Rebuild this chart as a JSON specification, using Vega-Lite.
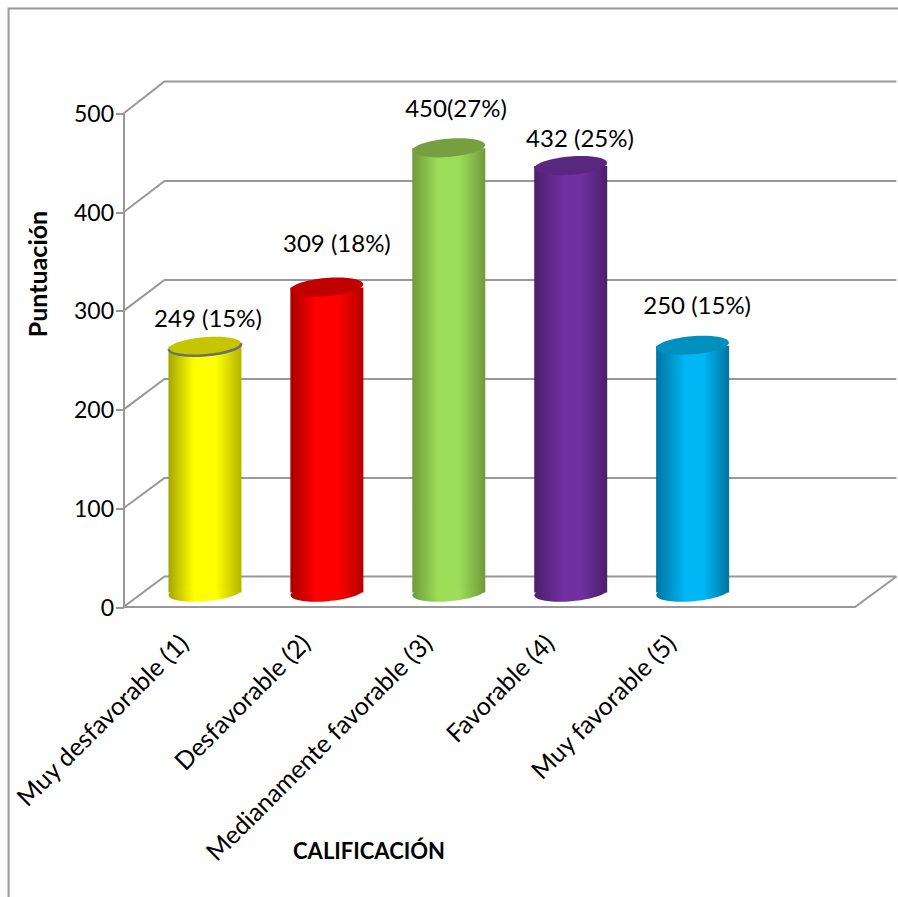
{
  "$schema": "https://vega.github.io/schema/vega-lite/v6.json",
  "width": 731.5,
  "height": 493.5,
  "autosize": "none",
  "padding": {"left": 123.5, "top": 113.5, "right": 43, "bottom": 290},
  "background": "white",
  "view": {"stroke": null},
  "config": {"font": "Lato"},
  "datasets": {
    "puntuaciones": [
      {"categoria": "Muy desfavorable (1)", "tono": "amarillo", "puntuacion": 249, "etiqueta": "249 (15%)"},
      {"categoria": "Desfavorable (2)", "tono": "rojo", "puntuacion": 309, "etiqueta": "309 (18%)"},
      {"categoria": "Medianamente favorable (3)", "tono": "verde", "puntuacion": 450, "etiqueta": "450(27%)"},
      {"categoria": "Favorable (4)", "tono": "morado", "puntuacion": 432, "etiqueta": "432 (25%)"},
      {"categoria": "Muy favorable (5)", "tono": "azul", "puntuacion": 250, "etiqueta": "250 (15%)"}
    ],
    "estructura": [
      {"linea": "marco", "orden": 1, "u": -0.943, "v": -293.8},
      {"linea": "marco", "orden": 2, "u": -0.943, "v": 606.4},
      {"linea": "marco", "orden": 3, "u": 6.353, "v": 606.4},
      {"linea": "suelo", "orden": 1, "u": 0, "v": 0},
      {"linea": "suelo", "orden": 2, "u": 6, "v": 0},
      {"linea": "suelo", "orden": 3, "u": 6.34, "v": 30.9},
      {"linea": "g0", "orden": 1, "u": 0, "v": 0},
      {"linea": "g0", "orden": 2, "u": 0.336, "v": 30.9},
      {"linea": "g0", "orden": 3, "u": 6.34, "v": 30.9},
      {"linea": "g100", "orden": 1, "u": 0, "v": 100},
      {"linea": "g100", "orden": 2, "u": 0.336, "v": 130.7},
      {"linea": "g100", "orden": 3, "u": 6.34, "v": 130.7},
      {"linea": "g200", "orden": 1, "u": 0, "v": 200},
      {"linea": "g200", "orden": 2, "u": 0.336, "v": 231},
      {"linea": "g200", "orden": 3, "u": 6.34, "v": 231},
      {"linea": "g300", "orden": 1, "u": 0, "v": 300},
      {"linea": "g300", "orden": 2, "u": 0.336, "v": 331.3},
      {"linea": "g300", "orden": 3, "u": 6.34, "v": 331.3},
      {"linea": "g400", "orden": 1, "u": 0, "v": 400},
      {"linea": "g400", "orden": 2, "u": 0.336, "v": 431.6},
      {"linea": "g400", "orden": 3, "u": 6.34, "v": 431.6},
      {"linea": "g500", "orden": 1, "u": 0, "v": 500},
      {"linea": "g500", "orden": 2, "u": 0.336, "v": 532.4},
      {"linea": "g500", "orden": 3, "u": 6.34, "v": 532.4}
    ]
  },
  "resolve": {"scale": {"x": "independent"}, "axis": {"x": "independent"}},
  "layer": [
    {
      "data": {"name": "estructura"},
      "mark": {"type": "line", "color": "#989898", "strokeWidth": 2, "clip": false},
      "encoding": {
        "x": {"field": "u", "type": "quantitative", "axis": null, "scale": {"domain": [0, 6], "nice": false, "zero": false}},
        "y": {
          "field": "v",
          "type": "quantitative",
          "scale": {"domain": [0, 500], "nice": false},
          "axis": {
            "title": "Puntuación",
            "titleFont": "Lato",
            "titleFontSize": 25,
            "titleFontWeight": "bold",
            "titleColor": "black",
            "titleX": -85,
            "titleY": 160,
            "titleAngle": 270,
            "titleAlign": "center",
            "titleBaseline": "middle",
            "values": [0, 100, 200, 300, 400, 500],
            "grid": false,
            "domainColor": "#989898",
            "domainWidth": 2,
            "tickColor": "#989898",
            "tickWidth": 2,
            "tickSize": 8,
            "labelFont": "Lato",
            "labelFontSize": 23,
            "labelColor": "black",
            "labelPadding": 2,
            "labelOffset": 1
          }
        },
        "detail": {"field": "linea"},
        "order": {"field": "orden"}
      }
    },
    {
      "data": {"name": "puntuaciones"},
      "encoding": {
        "x": {
          "field": "categoria",
          "type": "nominal",
          "sort": null,
          "scale": {
            "type": "band",
            "paddingInner": 0,
            "paddingOuter": 0,
            "domain": ["Muy desfavorable (1)", "Desfavorable (2)", "Medianamente favorable (3)", "Favorable (4)", "Muy favorable (5)", " "]
          },
          "axis": {
            "title": "CALIFICACIÓN",
            "titleFont": "Lato",
            "titleFontSize": 22,
            "titleFontWeight": "bold",
            "titleColor": "black",
            "titleX": 245,
            "titleY": 244,
            "titleAlign": "center",
            "titleBaseline": "middle",
            "domain": false,
            "ticks": false,
            "labelAngle": -45,
            "labelAlign": "right",
            "labelBaseline": "middle",
            "labelFont": "Lato",
            "labelFontSize": 25,
            "labelColor": "black",
            "labelPadding": 32,
            "labelOverlap": false,
            "labelLimit": 600
          }
        }
      },
      "layer": [
        {
          "transform": [{"filter": "datum.tono === 'amarillo'"}],
          "mark": {"type": "bar", "width": 73, "xOffset": 20.5, "yOffset": -14.5, "y2Offset": -14.5, "fill": {"gradient": "linear", "x1": 0, "y1": 0, "x2": 1, "y2": 0, "stops": [{"offset": 0, "color": "#a6a600"}, {"offset": 0.35, "color": "#ffff00"}, {"offset": 0.65, "color": "#ffff00"}, {"offset": 1, "color": "#b4b400"}]}},
          "encoding": {"y": {"field": "puntuacion", "type": "quantitative"}, "y2": {"datum": 0}}
        },
        {
          "transform": [{"filter": "datum.tono === 'amarillo'"}],
          "mark": {"type": "point", "filled": true, "opacity": 1, "shape": "M-1,0A1,0.24,0,1,1,1,0A1,0.24,0,1,1,-1,0Z", "size": 5329, "angle": -4.7, "xOffset": 20.5, "yOffset": -14.5, "fill": {"gradient": "linear", "x1": 0, "y1": 0, "x2": 1, "y2": 0, "stops": [{"offset": 0, "color": "#a6a600"}, {"offset": 0.35, "color": "#ffff00"}, {"offset": 0.65, "color": "#ffff00"}, {"offset": 1, "color": "#b4b400"}]}},
          "encoding": {"y": {"datum": 0}}
        },
        {
          "transform": [{"filter": "datum.tono === 'rojo'"}],
          "mark": {"type": "bar", "width": 73, "xOffset": 20.5, "yOffset": -14.5, "y2Offset": -14.5, "fill": {"gradient": "linear", "x1": 0, "y1": 0, "x2": 1, "y2": 0, "stops": [{"offset": 0, "color": "#a60000"}, {"offset": 0.35, "color": "#ff0000"}, {"offset": 0.65, "color": "#ff0000"}, {"offset": 1, "color": "#b40000"}]}},
          "encoding": {"y": {"field": "puntuacion", "type": "quantitative"}, "y2": {"datum": 0}}
        },
        {
          "transform": [{"filter": "datum.tono === 'rojo'"}],
          "mark": {"type": "point", "filled": true, "opacity": 1, "shape": "M-1,0A1,0.24,0,1,1,1,0A1,0.24,0,1,1,-1,0Z", "size": 5329, "angle": -4.7, "xOffset": 20.5, "yOffset": -14.5, "fill": {"gradient": "linear", "x1": 0, "y1": 0, "x2": 1, "y2": 0, "stops": [{"offset": 0, "color": "#a60000"}, {"offset": 0.35, "color": "#ff0000"}, {"offset": 0.65, "color": "#ff0000"}, {"offset": 1, "color": "#b40000"}]}},
          "encoding": {"y": {"datum": 0}}
        },
        {
          "transform": [{"filter": "datum.tono === 'verde'"}],
          "mark": {"type": "bar", "width": 73, "xOffset": 20.5, "yOffset": -14.5, "y2Offset": -14.5, "fill": {"gradient": "linear", "x1": 0, "y1": 0, "x2": 1, "y2": 0, "stops": [{"offset": 0, "color": "#6f9a3a"}, {"offset": 0.35, "color": "#9bdc58"}, {"offset": 0.65, "color": "#9bdc58"}, {"offset": 1, "color": "#6f9a3a"}]}},
          "encoding": {"y": {"field": "puntuacion", "type": "quantitative"}, "y2": {"datum": 0}}
        },
        {
          "transform": [{"filter": "datum.tono === 'verde'"}],
          "mark": {"type": "point", "filled": true, "opacity": 1, "shape": "M-1,0A1,0.24,0,1,1,1,0A1,0.24,0,1,1,-1,0Z", "size": 5329, "angle": -4.7, "xOffset": 20.5, "yOffset": -14.5, "fill": {"gradient": "linear", "x1": 0, "y1": 0, "x2": 1, "y2": 0, "stops": [{"offset": 0, "color": "#6f9a3a"}, {"offset": 0.35, "color": "#9bdc58"}, {"offset": 0.65, "color": "#9bdc58"}, {"offset": 1, "color": "#6f9a3a"}]}},
          "encoding": {"y": {"datum": 0}}
        },
        {
          "transform": [{"filter": "datum.tono === 'morado'"}],
          "mark": {"type": "bar", "width": 73, "xOffset": 20.5, "yOffset": -14.5, "y2Offset": -14.5, "fill": {"gradient": "linear", "x1": 0, "y1": 0, "x2": 1, "y2": 0, "stops": [{"offset": 0, "color": "#4a1f6b"}, {"offset": 0.4, "color": "#7030a0"}, {"offset": 0.65, "color": "#7030a0"}, {"offset": 1, "color": "#4a1f6b"}]}},
          "encoding": {"y": {"field": "puntuacion", "type": "quantitative"}, "y2": {"datum": 0}}
        },
        {
          "transform": [{"filter": "datum.tono === 'morado'"}],
          "mark": {"type": "point", "filled": true, "opacity": 1, "shape": "M-1,0A1,0.24,0,1,1,1,0A1,0.24,0,1,1,-1,0Z", "size": 5329, "angle": -4.7, "xOffset": 20.5, "yOffset": -14.5, "fill": {"gradient": "linear", "x1": 0, "y1": 0, "x2": 1, "y2": 0, "stops": [{"offset": 0, "color": "#4a1f6b"}, {"offset": 0.4, "color": "#7030a0"}, {"offset": 0.65, "color": "#7030a0"}, {"offset": 1, "color": "#4a1f6b"}]}},
          "encoding": {"y": {"datum": 0}}
        },
        {
          "transform": [{"filter": "datum.tono === 'azul'"}],
          "mark": {"type": "bar", "width": 73, "xOffset": 20.5, "yOffset": -14.5, "y2Offset": -14.5, "fill": {"gradient": "linear", "x1": 0, "y1": 0, "x2": 1, "y2": 0, "stops": [{"offset": 0, "color": "#00749e"}, {"offset": 0.4, "color": "#00b6f5"}, {"offset": 0.65, "color": "#00b6f5"}, {"offset": 1, "color": "#00749e"}]}},
          "encoding": {"y": {"field": "puntuacion", "type": "quantitative"}, "y2": {"datum": 0}}
        },
        {
          "transform": [{"filter": "datum.tono === 'azul'"}],
          "mark": {"type": "point", "filled": true, "opacity": 1, "shape": "M-1,0A1,0.24,0,1,1,1,0A1,0.24,0,1,1,-1,0Z", "size": 5329, "angle": -4.7, "xOffset": 20.5, "yOffset": -14.5, "fill": {"gradient": "linear", "x1": 0, "y1": 0, "x2": 1, "y2": 0, "stops": [{"offset": 0, "color": "#00749e"}, {"offset": 0.4, "color": "#00b6f5"}, {"offset": 0.65, "color": "#00b6f5"}, {"offset": 1, "color": "#00749e"}]}},
          "encoding": {"y": {"datum": 0}}
        },
        {
          "mark": {"type": "point", "filled": true, "opacity": 1, "shape": "M-1,0A1,0.25,0,1,1,1,0A1,0.25,0,1,1,-1,0Z", "size": 5329, "angle": -4.7, "xOffset": 20.5, "yOffset": -15},
          "encoding": {
            "y": {"field": "puntuacion", "type": "quantitative"},
            "color": {
              "field": "tono",
              "type": "nominal",
              "legend": null,
              "scale": {
                "domain": ["amarillo", "rojo", "verde", "morado", "azul"],
                "range": ["#c6c600", "#c00000", "#76a040", "#5a2780", "#0090c0"]
              }
            }
          }
        },
        {
          "transform": [{"filter": "datum.tono === 'amarillo'"}],
          "mark": {"type": "point", "filled": false, "opacity": 1, "color": "#6e6e6e", "strokeWidth": 2.5, "shape": "M-1,0A1,0.25,0,0,0,1,0", "size": 5329, "angle": -4.7, "xOffset": 20.5, "yOffset": -15},
          "encoding": {"y": {"field": "puntuacion", "type": "quantitative"}}
        },
        {
          "transform": [{"filter": "datum.puntuacion === 249"}],
          "mark": {"type": "text", "fontSize": 24, "color": "black", "dx": 23.5, "dy": -41},
          "encoding": {"y": {"field": "puntuacion", "type": "quantitative"}, "text": {"field": "etiqueta"}}
        },
        {
          "transform": [{"filter": "datum.puntuacion === 309"}],
          "mark": {"type": "text", "fontSize": 24, "color": "black", "dx": 30.5, "dy": -57},
          "encoding": {"y": {"field": "puntuacion", "type": "quantitative"}, "text": {"field": "etiqueta"}}
        },
        {
          "transform": [{"filter": "datum.puntuacion === 450"}],
          "mark": {"type": "text", "fontSize": 24, "color": "black", "dx": 27.7, "dy": -53},
          "encoding": {"y": {"field": "puntuacion", "type": "quantitative"}, "text": {"field": "etiqueta"}}
        },
        {
          "transform": [{"filter": "datum.puntuacion === 432"}],
          "mark": {"type": "text", "fontSize": 24, "color": "black", "dx": 29.8, "dy": -40.6},
          "encoding": {"y": {"field": "puntuacion", "type": "quantitative"}, "text": {"field": "etiqueta"}}
        },
        {
          "transform": [{"filter": "datum.puntuacion === 250"}],
          "mark": {"type": "text", "fontSize": 24, "color": "black", "dx": 25, "dy": -53},
          "encoding": {"y": {"field": "puntuacion", "type": "quantitative"}, "text": {"field": "etiqueta"}}
        }
      ]
    }
  ]
}
